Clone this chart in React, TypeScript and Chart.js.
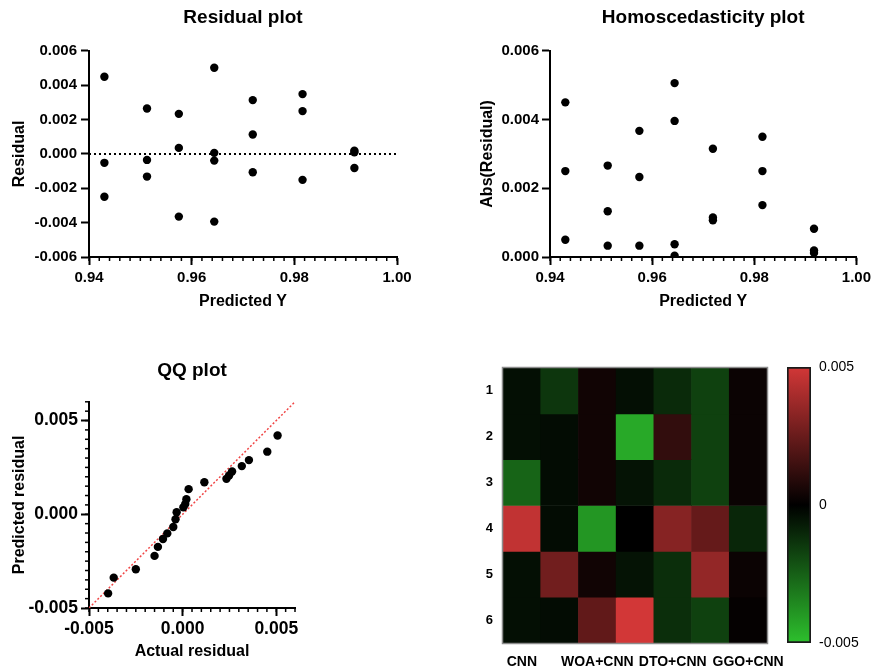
import React, { useEffect, useRef } from 'react';
import { Chart, registerables } from 'chart.js';

Chart.register(...registerables);

const FONT = "'Liberation Sans', Arial, Helvetica, sans-serif";

// ---------- Residual plot ----------
const predictedY = [
  0.943, 0.943, 0.943,
  0.9513, 0.9513, 0.9513,
  0.9575, 0.9575, 0.9575,
  0.9644, 0.9644, 0.9644, 0.9644,
  0.9719, 0.9719, 0.9719,
  0.9816, 0.9816, 0.9816,
  0.9917, 0.9917, 0.9917,
];
const residuals = [
  0.00449, -0.00052, -0.00249,
  0.00264, -0.00035, -0.00132,
  0.00233, 0.00035, -0.00365,
  0.00501, 0.00006, -0.00039, -0.00394,
  0.00313, 0.00113, -0.00107,
  0.00348, 0.00249, -0.00151,
  0.00018, 0.0001, -0.00082,
];
const residualYTicks = [-0.006, -0.004, -0.002, 0, 0.002, 0.004, 0.006];
const predictedXTicks = [0.94, 0.96, 0.98, 1.0];

// ---------- Homoscedasticity plot ----------
const homoPredictedY = [
  0.943, 0.943, 0.943,
  0.9513, 0.9513, 0.9513,
  0.9575, 0.9575, 0.9575,
  0.9644, 0.9644, 0.9644, 0.9644,
  0.9719, 0.9719, 0.9719,
  0.9816, 0.9816, 0.9816,
  0.9917, 0.9917, 0.9917,
];
const absResiduals = [
  0.0045, 0.0025, 0.0005,
  0.00266, 0.00133, 0.00033,
  0.00367, 0.00233, 0.00033,
  0.00506, 0.00396, 0.00037, 0.00004,
  0.00315, 0.00115, 0.00107,
  0.0035, 0.0025, 0.00151,
  0.00082, 0.00019, 0.00012,
];
const absYTicks = [0, 0.002, 0.004, 0.006];

// ---------- QQ plot ----------
const qqActual = [
  -0.00398, -0.00368, -0.0025, -0.0015, -0.00132, -0.00105, -0.00082, -0.0005,
  -0.00038, -0.00032, 0.00004, 0.00014, 0.0002, 0.00032, 0.00116, 0.00234,
  0.00248, 0.00264, 0.00316, 0.00354, 0.00452, 0.00507,
];
const qqPredicted = [
  -0.00422, -0.00338, -0.00293, -0.00222, -0.00174, -0.00132, -0.00102, -0.00068,
  -0.00027, 0.00011, 0.00037, 0.00055, 0.0008, 0.00134, 0.00171, 0.00189,
  0.00207, 0.00228, 0.00257, 0.00289, 0.00334, 0.0042,
];
const qqTicks = [-0.005, 0, 0.005];

// ---------- Heatmap ----------
const heatColumns = ['CNN', '', 'WOA+CNN', '', 'DTO+CNN', '', 'GGO+CNN'];
const heatRowLabels = ['1', '2', '3', '4', '5', '6'];
const heatRow1 = [-0.0004, -0.0014, 0.0004, -0.0004, -0.0011, -0.0017, 0.00025];
const heatRow2 = [-0.0004, -0.0003, 0.0004, -0.0044, 0.0012, -0.0017, 0.00025];
const heatRow3 = [-0.0026, -0.0003, 0.0004, -0.0005, -0.0011, -0.0017, 0.00025];
const heatRow4 = [0.0046, -0.0003, -0.0039, 0.0, 0.0032, 0.0024, -0.001];
const heatRow5 = [-0.0004, 0.0027, 0.0004, -0.0005, -0.0012, 0.0035, 0.00025];
const heatRow6 = [-0.0004, -0.0003, 0.0023, 0.005, -0.0012, -0.0017, 0.00012];
const heatRows = [heatRow1, heatRow2, heatRow3, heatRow4, heatRow5, heatRow6];
const colorbarTicks = [-0.005, 0, 0.005];
const COLOR_LIMIT = 0.005;

const RED = [210, 55, 55];
const GREEN = [45, 192, 45];

function colorFor(v: number): string {
  const t = Math.min(1, Math.abs(v) / COLOR_LIMIT);
  const base = v >= 0 ? RED : GREEN;
  return `rgb(${Math.round(base[0] * t)},${Math.round(base[1] * t)},${Math.round(base[2] * t)})`;
}

// ---------- plugins ----------
const minorTicksPlugin = {
  id: 'minorTicks',
  afterDatasetsDraw(chart: any, _args: any, opts: any) {
    const ctx = chart.ctx;
    (opts.axes || []).forEach((a: any) => {
      const scale = chart.scales[a.id];
      const n = Math.round((scale.max - scale.min) / a.step);
      ctx.save();
      ctx.strokeStyle = '#000';
      ctx.lineWidth = 1.5;
      for (let i = 0; i <= n; i++) {
        const v = scale.min + i * a.step;
        const p = scale.getPixelForValue(v);
        ctx.beginPath();
        if (scale.isHorizontal()) {
          ctx.moveTo(p, scale.top);
          ctx.lineTo(p, scale.top + a.len);
        } else {
          ctx.moveTo(scale.right, p);
          ctx.lineTo(scale.right - a.len, p);
        }
        ctx.stroke();
      }
      ctx.restore();
    });
  },
};

const frameBorderPlugin = {
  id: 'frameBorder',
  afterDatasetsDraw(chart: any) {
    const { ctx, chartArea } = chart;
    ctx.save();
    ctx.strokeStyle = '#8c8c8c';
    ctx.lineWidth = 1.5;
    ctx.strokeRect(chartArea.left - 0.5, chartArea.top - 0.5, chartArea.right - chartArea.left + 1, chartArea.bottom - chartArea.top + 1);
    ctx.restore();
  },
};

function fixedTicks(values: number[]) {
  return (scale: any) => {
    scale.ticks = values.map((v) => ({ value: v }));
  };
}

interface AxisSpec {
  min: number;
  max: number;
  ticks: number[];
  fmt: (v: number) => string;
  title: string;
  size: number; // afterFit size
  titlePad: any;
  tickPad: number;
}

function scatterConfig(p: {
  title: string;
  titlePad: any;
  padRight: number;
  tickFont: number;
  x: AxisSpec;
  y: AxisSpec;
  datasets: any[];
  minor: any[];
}): any {
  const axis = (a: AxisSpec, horizontal: boolean) => ({
    type: 'linear',
    position: horizontal ? 'bottom' : 'left',
    min: a.min,
    max: a.max,
    afterBuildTicks: fixedTicks(a.ticks),
    afterFit: (scale: any) => {
      if (horizontal) scale.height = a.size;
      else scale.width = a.size;
    },
    grid: {
      display: true,
      drawOnChartArea: false,
      drawTicks: true,
      tickLength: 8,
      tickWidth: 2,
      tickColor: '#000',
    },
    border: { display: true, color: '#000', width: 2 },
    ticks: {
      color: '#000',
      padding: a.tickPad,
      maxRotation: 0,
      autoSkip: false,
      font: { family: FONT, size: p.tickFont, weight: 'bold' },
      callback: (v: any) => a.fmt(Number(v)),
    },
    title: {
      display: true,
      text: a.title,
      color: '#000',
      padding: a.titlePad,
      font: { family: FONT, size: 16, weight: 'bold' },
    },
  });
  return {
    type: 'scatter',
    data: { datasets: p.datasets },
    options: {
      responsive: false,
      animation: false,
      devicePixelRatio: 1,
      layout: { padding: { left: 0, right: p.padRight, top: 0, bottom: 0 } },
      plugins: {
        legend: { display: false },
        tooltip: { enabled: false },
        title: {
          display: true,
          text: p.title,
          fullSize: false,
          color: '#000',
          padding: p.titlePad,
          font: { family: FONT, size: 19, weight: 'bold' },
        },
        minorTicks: { axes: p.minor },
      },
      scales: { x: axis(p.x, true), y: axis(p.y, false) },
    },
    plugins: [minorTicksPlugin],
  };
}

const dotStyle = {
  pointRadius: 4.2,
  pointBackgroundColor: '#000',
  pointBorderWidth: 0,
  showLine: false,
  order: 0,
};

function residualConfig() {
  return scatterConfig({
    title: 'Residual plot',
    titlePad: { top: 6, bottom: 22 },
    padRight: 33,
    tickFont: 15,
    x: {
      min: 0.94, max: 1.0, ticks: predictedXTicks, fmt: (v) => v.toFixed(2),
      title: 'Predicted Y', size: 63, titlePad: { top: 0, bottom: 9 }, tickPad: 4,
    },
    y: {
      min: -0.006, max: 0.006, ticks: residualYTicks, fmt: (v) => v.toFixed(3),
      title: 'Residual', size: 89, titlePad: { top: 10, bottom: 0 }, tickPad: 4,
    },
    datasets: [
      { data: predictedY.map((x, i) => ({ x, y: residuals[i] })), ...dotStyle },
      {
        data: [{ x: 0.94, y: 0 }, { x: 1.0, y: 0 }],
        showLine: true,
        pointRadius: 0,
        borderColor: '#000',
        borderWidth: 2,
        borderDash: [2, 3],
        order: 1,
      },
    ],
    minor: [{ id: 'x', step: 0.002, len: 4 }],
  });
}

function homoConfig() {
  return scatterConfig({
    title: 'Homoscedasticity plot',
    titlePad: { top: 6, bottom: 22 },
    padRight: 15,
    tickFont: 15,
    x: {
      min: 0.94, max: 1.0, ticks: predictedXTicks, fmt: (v) => v.toFixed(2),
      title: 'Predicted Y', size: 63, titlePad: { top: 0, bottom: 9 }, tickPad: 4,
    },
    y: {
      min: 0, max: 0.006, ticks: absYTicks, fmt: (v) => v.toFixed(3),
      title: 'Abs(Residual)', size: 110, titlePad: { top: 38, bottom: 0 }, tickPad: 3,
    },
    datasets: [
      { data: homoPredictedY.map((x, i) => ({ x, y: absResiduals[i] })), ...dotStyle },
    ],
    minor: [{ id: 'x', step: 0.002, len: 4 }],
  });
}

function qqConfig() {
  return scatterConfig({
    title: 'QQ plot',
    titlePad: { top: 19, bottom: 20 },
    padRight: 25,
    tickFont: 17.5,
    x: {
      min: -0.005, max: 0.006, ticks: qqTicks, fmt: (v) => v.toFixed(3),
      title: 'Actual residual', size: 62, titlePad: { top: 0, bottom: 9 }, tickPad: 3,
    },
    y: {
      min: -0.005, max: 0.006, ticks: qqTicks, fmt: (v) => v.toFixed(3),
      title: 'Predicted residual', size: 89, titlePad: { top: 10, bottom: 0 }, tickPad: 3,
    },
    datasets: [
      { data: qqActual.map((x, i) => ({ x, y: qqPredicted[i] })), ...dotStyle },
      {
        data: [{ x: -0.005, y: -0.005 }, { x: 0.006, y: 0.006 }],
        showLine: true,
        pointRadius: 0,
        borderColor: 'rgb(240,70,70)',
        borderWidth: 1.5,
        borderDash: [2, 2],
        order: 1,
      },
    ],
    minor: [
      { id: 'x', step: 0.0005, len: 4 },
      { id: 'y', step: 0.0005, len: 4 },
    ],
  });
}

function heatmapConfig(): any {
  return {
    type: 'bar',
    data: {
      labels: heatColumns,
      datasets: heatRows.map((row, r) => ({
        label: heatRowLabels[r],
        data: heatColumns.map(() => 1),
        backgroundColor: row.map(colorFor),
        borderWidth: 0,
        barPercentage: 1,
        categoryPercentage: 1,
      })),
    },
    options: {
      responsive: false,
      animation: false,
      devicePixelRatio: 1,
      layout: { padding: { left: 0, right: 37, top: 23, bottom: 0 } },
      plugins: { legend: { display: false }, tooltip: { enabled: false } },
      scales: {
        x: {
          stacked: true,
          grid: { display: false },
          border: { display: false },
          afterFit: (s: any) => { s.height = 27; },
          ticks: {
            color: '#000',
            padding: 3,
            autoSkip: false,
            maxRotation: 0,
            font: { family: FONT, size: 14, weight: 'bold' },
          },
        },
        y: {
          type: 'linear',
          stacked: true,
          reverse: true,
          min: 0,
          max: heatRowLabels.length,
          afterBuildTicks: fixedTicks(heatRowLabels.map((_, i) => i + 0.5)),
          afterFit: (s: any) => { s.width = 43; },
          grid: { display: false },
          border: { display: false },
          ticks: {
            color: '#000',
            padding: 2,
            font: { family: FONT, size: 13, weight: 'bold' },
            callback: (v: any) => heatRowLabels[Math.floor(Number(v))],
          },
        },
      },
    },
    plugins: [frameBorderPlugin],
  };
}

function colorbarConfig(): any {
  return {
    type: 'bar',
    data: {
      labels: [''],
      datasets: [
        {
          data: [[-COLOR_LIMIT, COLOR_LIMIT]],
          backgroundColor: (c: any) => {
            const area = c.chart.chartArea;
            if (!area) return '#000';
            const g = c.chart.ctx.createLinearGradient(0, area.bottom, 0, area.top);
            g.addColorStop(0, colorFor(-COLOR_LIMIT));
            g.addColorStop(0.5, colorFor(0));
            g.addColorStop(1, colorFor(COLOR_LIMIT));
            return g;
          },
          borderColor: '#1a1a1a',
          borderWidth: 2,
          borderSkipped: false,
          barPercentage: 1,
          categoryPercentage: 1,
        },
      ],
    },
    options: {
      responsive: false,
      animation: false,
      devicePixelRatio: 1,
      layout: { padding: { left: 7, right: 0, top: 12, bottom: 12 } },
      plugins: { legend: { display: false }, tooltip: { enabled: false } },
      scales: {
        x: { display: false },
        y: {
          position: 'right',
          min: -COLOR_LIMIT,
          max: COLOR_LIMIT,
          afterBuildTicks: fixedTicks(colorbarTicks),
          afterFit: (s: any) => { s.width = 64; },
          grid: { display: false },
          border: { display: false },
          ticks: {
            color: '#000',
            padding: 0,
            font: { family: FONT, size: 14 },
            callback: (v: any) => (Number(v) === 0 ? '0' : Number(v).toFixed(3)),
          },
        },
      },
    },
  };
}

function ChartBox(props: { left: number; top: number; width: number; height: number; make: () => any }) {
  const ref = useRef<HTMLCanvasElement>(null);
  useEffect(() => {
    const chart = new Chart(ref.current as HTMLCanvasElement, props.make());
    return () => chart.destroy();
  }, []);
  return (
    <canvas
      ref={ref}
      width={props.width}
      height={props.height}
      style={{ position: 'absolute', left: props.left, top: props.top, width: props.width, height: props.height }}
    />
  );
}

export default function App() {
  return (
    <div style={{ position: 'absolute', left: 0, top: 0, width: 875, height: 670, background: '#fff', overflow: 'hidden' }}>
      <ChartBox left={0} top={0} width={430} height={320} make={residualConfig} />
      <ChartBox left={440} top={0} width={435} height={320} make={homoConfig} />
      <ChartBox left={0} top={340} width={320} height={330} make={qqConfig} />
      <ChartBox left={460} top={345} width={344} height={325} make={heatmapConfig} />
      <ChartBox left={780} top={355} width={95} height={300} make={colorbarConfig} />
    </div>
  );
}
